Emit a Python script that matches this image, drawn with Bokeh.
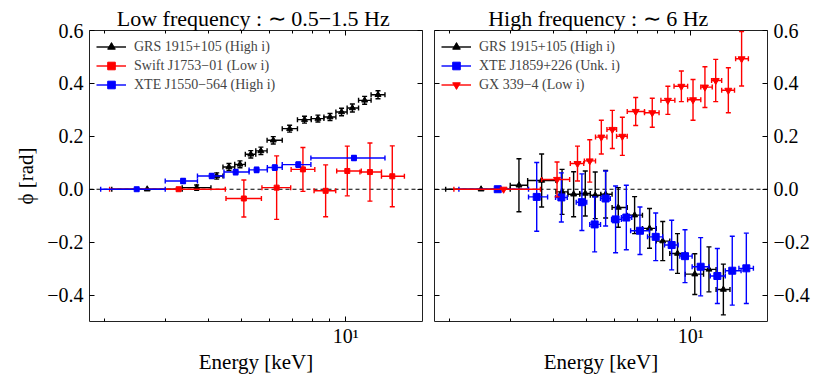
import math
from bokeh.plotting import figure
from bokeh.models import (ColumnDataSource, Span, Legend, LegendItem, FixedTicker,
                          LinearAxis, LogAxis, Range1d, CustomJSTickFormatter)
from bokeh.layouts import row
from bokeh.embed import file_html
from bokeh.resources import INLINE

# ---------------- data ----------------
X_RANGE = (1.81, 16.7)
Y_RANGE = (-0.5, 0.6)
Y_TICKS = [-0.4, -0.2, 0.0, 0.2, 0.4, 0.6]
X_MAJOR = [10]
X_MINOR = [2, 3, 4, 5, 6, 7, 8, 9]
X_LABELS = {10: "10\u00b9"}

TITLE_LOW = "Low frequency :  \u223c 0.5\u22121.5 Hz"
TITLE_HIGH = "High frequency :  \u223c 6 Hz"
X_LABEL = "Energy [keV]"
Y_LABEL = "\u03d5 [rad]"

# Left panel: low frequency
grs_low_e = [2.66, 3.70, 4.23, 4.59, 4.94, 5.31, 5.68, 6.17, 6.88, 7.60, 8.31, 9.01, 9.73, 10.46, 11.35, 12.41]
grs_low_lo = [2.10, 3.36, 4.07, 4.41, 4.77, 5.12, 5.49, 5.92, 6.55, 7.25, 7.95, 8.65, 9.37, 10.1, 10.9, 11.85]
grs_low_hi = [3.36, 4.07, 4.41, 4.77, 5.12, 5.49, 5.92, 6.55, 7.25, 7.95, 8.65, 9.37, 10.1, 10.9, 11.85, 13.0]
grs_low_phi = [0.0, 0.006, 0.050, 0.084, 0.094, 0.132, 0.145, 0.185, 0.229, 0.263, 0.267, 0.273, 0.292, 0.307, 0.336, 0.357]
grs_low_err = [0.0, 0.010, 0.012, 0.013, 0.013, 0.014, 0.014, 0.014, 0.013, 0.013, 0.013, 0.013, 0.014, 0.015, 0.015, 0.015]

swift_e = [3.28, 5.07, 6.31, 7.52, 8.75, 10.11, 11.76, 13.65]
swift_lo = [2.07, 4.50, 5.72, 6.95, 8.10, 9.42, 11.0, 12.7]
swift_hi = [4.48, 5.70, 6.93, 8.14, 9.36, 11.1, 12.7, 14.8]
swift_phi = [0.0, -0.035, 0.006, 0.075, -0.006, 0.069, 0.065, 0.049]
swift_err = [0.0, 0.070, 0.120, 0.083, 0.098, 0.094, 0.110, 0.115]

x1550_e = [2.48, 3.38, 4.09, 4.80, 5.52, 6.23, 7.29, 10.57]
x1550_lo = [1.95, 3.00, 3.72, 4.44, 5.25, 5.93, 6.55, 7.93]
x1550_hi = [3.00, 3.72, 4.44, 5.25, 5.93, 6.55, 7.93, 13.0]
x1550_phi = [0.0, 0.031, 0.050, 0.065, 0.073, 0.082, 0.093, 0.118]
x1550_err = [0.0, 0.010, 0.010, 0.010, 0.010, 0.010, 0.010, 0.010]

# Right panel: high frequency
grs_high_e = [2.47, 3.18, 3.70, 4.24, 4.58, 4.95, 5.29, 5.67, 6.17, 6.88, 7.60, 8.30, 9.16, 10.28, 11.3, 12.44]
grs_high_lo = [1.95, 3.00, 3.37, 4.07, 4.41, 4.77, 5.12, 5.49, 5.92, 6.55, 7.25, 7.95, 8.70, 9.65, 10.9, 11.85]
grs_high_hi = [3.00, 3.37, 4.07, 4.41, 4.77, 5.12, 5.49, 5.92, 6.55, 7.25, 7.95, 8.70, 9.65, 10.9, 11.85, 13.0]
grs_high_phi = [0.0, 0.015, 0.033, -0.010, -0.019, -0.016, -0.023, -0.019, -0.069, -0.098, -0.148, -0.196, -0.243, -0.321, -0.303, -0.379]
grs_high_err = [0.0, 0.100, 0.100, 0.085, 0.085, 0.085, 0.088, 0.090, 0.075, 0.070, 0.075, 0.074, 0.075, 0.077, 0.085, 0.096]

x1859_e = [2.76, 3.58, 4.22, 4.84, 5.27, 5.67, 6.06, 6.51, 7.13, 7.92, 8.81, 9.63, 10.69, 11.95, 13.2, 14.5]
x1859_lo = [2.13, 3.39, 4.06, 4.66, 5.10, 5.48, 5.90, 6.30, 6.70, 7.50, 8.40, 9.30, 10.1, 11.4, 12.6, 13.8]
x1859_hi = [3.39, 3.85, 4.39, 5.00, 5.48, 5.85, 6.30, 6.75, 7.60, 8.30, 9.20, 10.1, 11.3, 12.6, 14.0, 15.2]
x1859_phi = [0.0, -0.029, -0.031, -0.049, -0.133, -0.035, -0.114, -0.107, -0.157, -0.180, -0.211, -0.253, -0.293, -0.328, -0.308, -0.299]
x1859_err = [0.0, 0.130, 0.093, 0.107, 0.104, 0.104, 0.126, 0.122, 0.090, 0.090, 0.094, 0.100, 0.110, 0.104, 0.130, 0.133]

gx_e = [2.87, 4.10, 4.70, 5.10, 5.51, 5.93, 6.34, 6.93, 7.74, 8.59, 9.40, 10.16, 11.0, 11.82, 12.86, 14.05]
gx_lo = [2.06, 3.70, 4.48, 4.92, 5.30, 5.72, 6.10, 6.55, 7.35, 8.20, 8.95, 9.80, 10.7, 11.5, 12.3, 13.5]
gx_hi = [3.67, 4.46, 4.90, 5.30, 5.72, 6.10, 6.55, 7.35, 8.10, 9.00, 9.80, 10.7, 11.55, 12.3, 13.4, 14.7]
gx_phi = [0.0, 0.037, 0.097, 0.107, 0.197, 0.226, 0.200, 0.294, 0.289, 0.336, 0.389, 0.338, 0.386, 0.411, 0.374, 0.493]
gx_err = [0.0, 0.066, 0.066, 0.080, 0.064, 0.072, 0.072, 0.053, 0.055, 0.053, 0.058, 0.077, 0.077, 0.080, 0.085, 0.103]

LOW_SERIES = [
    dict(label="GRS 1915+105 (High i)", e=grs_low_e, lo=grs_low_lo, hi=grs_low_hi, phi=grs_low_phi, err=grs_low_err,
         color="black", marker="triangle", size=6),
    dict(label="Swift J1753\u221201 (Low i)", e=swift_e, lo=swift_lo, hi=swift_hi, phi=swift_phi, err=swift_err,
         color="#ff0000", marker="square", size=5),
    dict(label="XTE J1550\u2212564 (High i)", e=x1550_e, lo=x1550_lo, hi=x1550_hi, phi=x1550_phi, err=x1550_err,
         color="#0000ff", marker="square", size=5),
]
HIGH_SERIES = [
    dict(label="GRS 1915+105 (High i)", e=grs_high_e, lo=grs_high_lo, hi=grs_high_hi, phi=grs_high_phi, err=grs_high_err,
         color="black", marker="triangle", size=6),
    dict(label="XTE J1859+226 (Unk. i)", e=x1859_e, lo=x1859_lo, hi=x1859_hi, phi=x1859_phi, err=x1859_err,
         color="#0000ff", marker="square", size=7),
    dict(label="GX 339\u22124 (Low i)", e=gx_e, lo=gx_lo, hi=gx_hi, phi=gx_phi, err=gx_err,
         color="#ff0000", marker="inverted_triangle", size=7),
]

FONT = "'Liberation Serif', serif"
TICK_SIZE = "20px"
LABEL_SIZE = "21px"
TITLE_SIZE = "22px"
LEGEND_SIZE = "14px"
LW = 1.4
CAP = 5


def style_axis(ax, labels):
    ax.axis_line_color = None
    ax.major_tick_in = 5
    ax.major_tick_out = 0
    ax.minor_tick_in = 3
    ax.minor_tick_out = 0
    ax.major_tick_line_color = "black"
    ax.minor_tick_line_color = "black"
    ax.major_tick_line_width = 1
    ax.minor_tick_line_width = 1
    ax.major_label_text_font = FONT
    ax.major_label_text_font_size = TICK_SIZE
    ax.major_label_text_color = "black"
    ax.axis_label_text_font = FONT
    ax.axis_label_text_font_size = LABEL_SIZE
    ax.axis_label_text_font_style = "normal"
    ax.axis_label_text_color = "black"
    if not labels:
        ax.formatter = CustomJSTickFormatter(code="return '';")
        ax.major_label_standoff = 0
    else:
        ax.major_label_standoff = 6


def y_axis(labels):
    ax = LinearAxis(ticker=FixedTicker(ticks=Y_TICKS, minor_ticks=[]))
    style_axis(ax, labels)
    if labels:
        ax.formatter = CustomJSTickFormatter(
            code="return (tick < -1e-9 ? '\u2212' : '') + Math.abs(tick).toFixed(1);")
    return ax


def x_axis(labels):
    ax = LogAxis(ticker=FixedTicker(ticks=X_MAJOR, minor_ticks=X_MINOR))
    style_axis(ax, labels)
    if labels:
        ax.major_label_overrides = X_LABELS
        ax.axis_label = X_LABEL
        ax.major_label_standoff = 3
        ax.axis_label_standoff = 0
    return ax


def draw_series(p, s):
    c = s["color"]
    plo = [a - b for a, b in zip(s["phi"], s["err"])]
    phu = [a + b for a, b in zip(s["phi"], s["err"])]
    src = ColumnDataSource(dict(e=s["e"], lo=s["lo"], hi=s["hi"], phi=s["phi"], plo=plo, phu=phu))
    keep = [i for i, v in enumerate(s["err"]) if v > 0]
    vsrc = ColumnDataSource(dict(e=[s["e"][i] for i in keep], plo=[plo[i] for i in keep],
                                 phu=[phu[i] for i in keep]))
    # horizontal bars with caps
    hseg = p.segment("lo", "phi", "hi", "phi", source=src, line_color=c, line_width=LW)
    for col in ("lo", "hi"):
        p.scatter(col, "phi", source=src, marker="dash", angle=math.pi / 2, size=CAP,
                  line_color=c, line_width=LW)
    # vertical bars with caps
    p.segment("e", "plo", "e", "phu", source=vsrc, line_color=c, line_width=LW)
    for col in ("plo", "phu"):
        p.scatter("e", col, source=vsrc, marker="dash", size=CAP, line_color=c, line_width=LW)
    r = p.scatter("e", "phi", source=src, marker=s["marker"], size=s["size"],
                  fill_color=c, line_color=c)
    return LegendItem(label=s["label"], renderers=[hseg, r])


def make_panel(series, title, right_labels, mb_left, mb_right):
    p = figure(x_axis_type="log", x_range=Range1d(*X_RANGE), y_range=Range1d(*Y_RANGE),
               frame_width=333, frame_height=291,
               min_border_left=mb_left, min_border_right=mb_right,
               min_border_top=30, min_border_bottom=58,
               x_axis_location=None, y_axis_location=None,
               title=title,
               output_backend="svg", toolbar_location=None)
    p.grid.visible = False
    p.outline_line_color = "#222222"
    p.outline_line_width = 1
    p.background_fill_color = "white"
    p.border_fill_color = "white"
    p.title.align = "center"
    p.title.text_font = FONT
    p.title.text_font_size = TITLE_SIZE
    p.title.text_font_style = "normal"
    p.title.text_color = "black"
    p.title.standoff = 0
    p.title.offset = 0

    p.add_layout(x_axis(True), "below")
    p.add_layout(x_axis(False), "above")
    left = y_axis(not right_labels)
    right = y_axis(right_labels)
    if not right_labels:
        left.axis_label = Y_LABEL
        left.axis_label_standoff = 6
    p.add_layout(left, "left")
    p.add_layout(right, "right")

    p.add_layout(Span(location=0, dimension="width", line_color="black", line_width=1.2,
                      line_dash="4 3", level="underlay"))

    items = [draw_series(p, s) for s in series]
    leg = Legend(items=items, location="top_left")
    leg.label_text_font = FONT
    leg.label_text_font_size = LEGEND_SIZE
    leg.glyph_width = 30
    leg.glyph_height = 19
    leg.label_height = 19
    leg.spacing = 0
    leg.label_standoff = 8
    leg.margin = 5
    leg.padding = 2
    leg.background_fill_alpha = 0
    leg.border_line_alpha = 0
    p.add_layout(leg)
    return p


p1 = make_panel(LOW_SERIES, TITLE_LOW, False, 89, 6)
p2 = make_panel(HIGH_SERIES, TITLE_HIGH, True, 6, 50)
layout = row(p1, p2)

with open("out.html", "w") as f:
    f.write(file_html(layout, INLINE))
